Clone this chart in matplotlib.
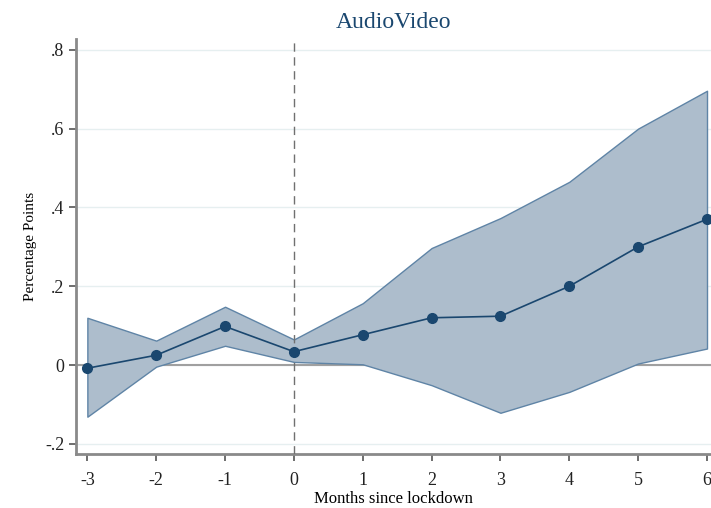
import numpy as np
import matplotlib.pyplot as plt

plt.rcParams['font.family'] = ['Liberation Serif', 'DejaVu Serif']

months = [-3, -2, -1, 0, 1, 2, 3, 4, 5, 6]
coef = [-0.008, 0.025, 0.098, 0.034, 0.077, 0.120, 0.124, 0.200, 0.300, 0.370]
ci_hi = [0.120, 0.062, 0.148, 0.065, 0.157, 0.297, 0.373, 0.465, 0.600, 0.696]
ci_lo = [-0.131, -0.004, 0.049, 0.008, 0.002, -0.051, -0.121, -0.068, 0.004, 0.042]
yticks = [-0.2, 0, 0.2, 0.4, 0.6, 0.8]
ylabels = ['-.2', '0', '.2', '.4', '.6', '.8']

navy = '#1a476f'

fig = plt.figure(figsize=(7.11, 5.08), dpi=100)
ax = fig.add_axes([0.107, 0.106, 0.893, 0.817])

for y in yticks:
    ax.axhline(y, color='#e6eff0', lw=1, zorder=0)
ax.axhline(0, color='#a0a0a0', lw=1.5, zorder=1)

ax.fill_between(months, ci_lo, ci_hi, facecolor='#adbdcc', edgecolor='#5f84a6',
                lw=1, zorder=2)
ax.axvline(0, color='#707070', lw=1, ls=(0, (6, 4)), zorder=3)
ax.plot(months, coef, color=navy, lw=1.2, marker='o', ms=7, zorder=4, clip_on=False)

ax.set_xlim(-3.164, 6.058)
ax.set_ylim(-0.226, 0.827)
ax.set_xticks(months)
ax.set_xticklabels([str(m) for m in months])
ax.set_yticks(yticks)
ax.set_yticklabels(ylabels)

for s in ['top', 'right']:
    ax.spines[s].set_visible(False)
for s in ['left', 'bottom']:
    ax.spines[s].set_color('#8a8a8a')
    ax.spines[s].set_linewidth(2)
ax.tick_params(axis='both', direction='out', length=5, width=1.2, color='#555555',
               labelsize=13, labelcolor='#222222')
ax.tick_params(axis='x', pad=8)

ax.set_ylabel('Percentage Points', fontsize=11, labelpad=6)
ax.set_xlabel('Months since lockdown', fontsize=12, labelpad=1)
ax.set_title('AudioVideo', fontsize=17, color=navy, pad=8)

fig.savefig('out.png', dpi=100)
